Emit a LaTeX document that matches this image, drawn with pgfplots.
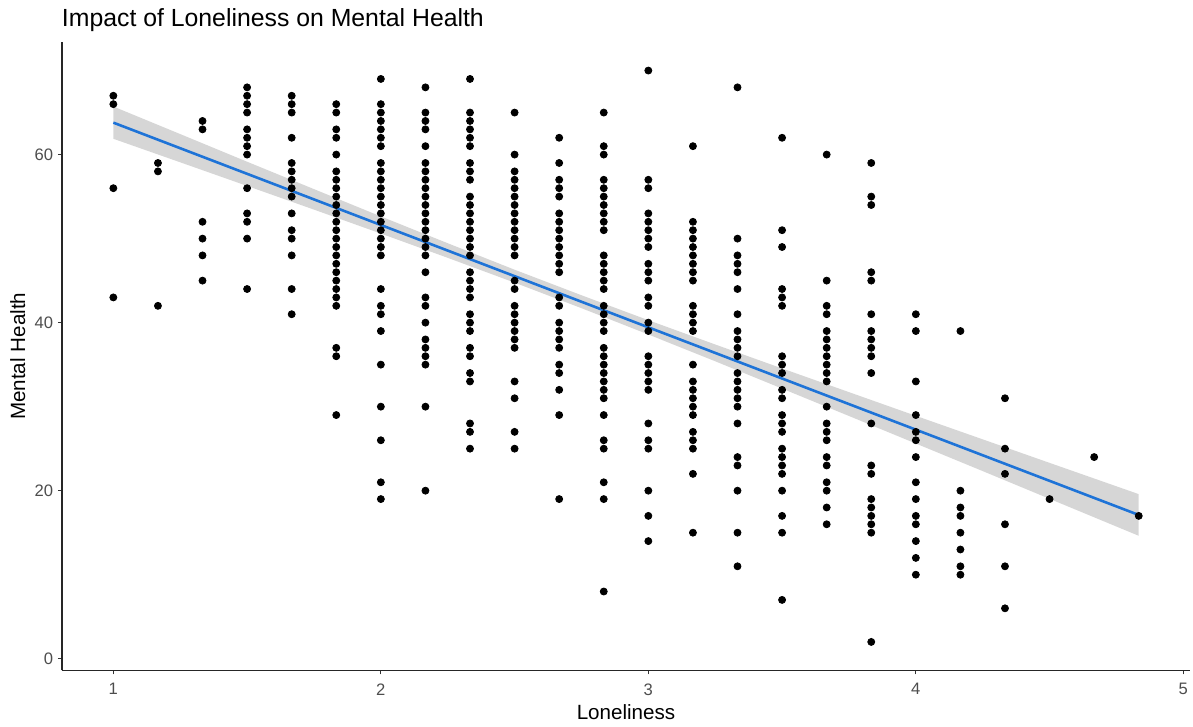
\documentclass[border=0pt]{standalone}
\usepackage{fontspec}
\setmainfont{Liberation Sans}
\usepackage{pgfplots}
\pgfplotsset{compat=1.18}
\definecolor{lmblue}{RGB}{30,115,215}
\definecolor{bandgray}{RGB}{153,153,153}
\definecolor{ticktext}{RGB}{77,77,77}
\begin{document}
\begin{tikzpicture}
\useasboundingbox (-31pt,-28.1pt) rectangle (565.5pt,335.25pt);
\begin{axis}[
  at={(0pt,0pt)}, anchor=south west,
  width=564pt, height=314.25pt, scale only axis,
  xmin=0.808, xmax=5.025, ymin=-1.4, ymax=73.4,
  axis x line*=bottom, axis y line*=left,
  xtick={1,2,3,4,5}, ytick={0,20,40,60},
  tick align=outside, major tick length=2pt,
  tick style={color=black!80, line width=0.5pt},
  axis line style={line width=0.6pt, color=black!85},
  /pgf/number format/assume math mode=true,
  ticklabel style={font=\fontsize{8.3}{10}\selectfont, text=ticktext},
  xticklabel style={anchor=north, inner sep=0pt, yshift=-4.3pt},
  yticklabel style={anchor=east, inner sep=0pt, xshift=-2.2pt},
]
\addplot[only marks, mark=*, mark size=1.75pt, black, mark options={draw=black, fill=black}] coordinates {
(1,67) (1,66) (1,56) (1,43)
(1.1667,59) (1.1667,58) (1.1667,42)
(1.3333,64) (1.3333,63) (1.3333,52) (1.3333,50) (1.3333,48) (1.3333,45)
(1.5,68) (1.5,67) (1.5,66) (1.5,65) (1.5,63) (1.5,62) (1.5,61) (1.5,60) (1.5,56) (1.5,53) (1.5,52) (1.5,50) (1.5,44)
(1.6667,67) (1.6667,66) (1.6667,65) (1.6667,62) (1.6667,59) (1.6667,58) (1.6667,57) (1.6667,56) (1.6667,55) (1.6667,53) (1.6667,51) (1.6667,50) (1.6667,48) (1.6667,44) (1.6667,41)
(1.8333,66) (1.8333,65) (1.8333,63) (1.8333,62) (1.8333,60) (1.8333,58) (1.8333,57) (1.8333,56) (1.8333,55) (1.8333,54) (1.8333,53) (1.8333,52) (1.8333,51) (1.8333,50) (1.8333,49) (1.8333,48) (1.8333,47) (1.8333,46) (1.8333,45) (1.8333,44) (1.8333,43) (1.8333,42) (1.8333,37) (1.8333,36) (1.8333,29)
(2,69) (2,66) (2,65) (2,64) (2,63) (2,62) (2,61) (2,59) (2,58) (2,57) (2,56) (2,55) (2,54) (2,53) (2,52) (2,51) (2,50) (2,49) (2,48) (2,44) (2,42) (2,41) (2,39) (2,35) (2,30) (2,26) (2,21) (2,19)
(2.1667,68) (2.1667,65) (2.1667,64) (2.1667,63) (2.1667,61) (2.1667,59) (2.1667,58) (2.1667,57) (2.1667,56) (2.1667,55) (2.1667,54) (2.1667,53) (2.1667,52) (2.1667,51) (2.1667,50) (2.1667,49) (2.1667,48) (2.1667,46) (2.1667,43) (2.1667,42) (2.1667,40) (2.1667,38) (2.1667,37) (2.1667,36) (2.1667,35) (2.1667,30) (2.1667,20)
(2.3333,69) (2.3333,65) (2.3333,64) (2.3333,63) (2.3333,62) (2.3333,61) (2.3333,59) (2.3333,58) (2.3333,57) (2.3333,55) (2.3333,54) (2.3333,53) (2.3333,52) (2.3333,51) (2.3333,50) (2.3333,49) (2.3333,48) (2.3333,46) (2.3333,45) (2.3333,44) (2.3333,43) (2.3333,41) (2.3333,40) (2.3333,39) (2.3333,37) (2.3333,36) (2.3333,34) (2.3333,33) (2.3333,28) (2.3333,27) (2.3333,25)
(2.5,65) (2.5,60) (2.5,58) (2.5,57) (2.5,56) (2.5,55) (2.5,54) (2.5,53) (2.5,52) (2.5,51) (2.5,50) (2.5,49) (2.5,48) (2.5,45) (2.5,44) (2.5,42) (2.5,41) (2.5,40) (2.5,39) (2.5,38) (2.5,37) (2.5,33) (2.5,31) (2.5,27) (2.5,25)
(2.6667,62) (2.6667,59) (2.6667,57) (2.6667,56) (2.6667,55) (2.6667,53) (2.6667,52) (2.6667,51) (2.6667,50) (2.6667,49) (2.6667,48) (2.6667,47) (2.6667,46) (2.6667,43) (2.6667,42) (2.6667,40) (2.6667,39) (2.6667,38) (2.6667,37) (2.6667,35) (2.6667,34) (2.6667,32) (2.6667,29) (2.6667,19)
(2.8333,65) (2.8333,61) (2.8333,60) (2.8333,57) (2.8333,56) (2.8333,55) (2.8333,54) (2.8333,53) (2.8333,52) (2.8333,51) (2.8333,48) (2.8333,47) (2.8333,46) (2.8333,45) (2.8333,44) (2.8333,42) (2.8333,41) (2.8333,40) (2.8333,39) (2.8333,37) (2.8333,36) (2.8333,35) (2.8333,34) (2.8333,33) (2.8333,32) (2.8333,31) (2.8333,29) (2.8333,26) (2.8333,25) (2.8333,21) (2.8333,19) (2.8333,8)
(3,70) (3,57) (3,56) (3,53) (3,52) (3,51) (3,50) (3,49) (3,47) (3,46) (3,45) (3,43) (3,42) (3,40) (3,39) (3,36) (3,35) (3,34) (3,33) (3,32) (3,28) (3,26) (3,25) (3,20) (3,17) (3,14)
(3.1667,61) (3.1667,52) (3.1667,51) (3.1667,50) (3.1667,49) (3.1667,48) (3.1667,47) (3.1667,46) (3.1667,45) (3.1667,42) (3.1667,41) (3.1667,40) (3.1667,39) (3.1667,35) (3.1667,33) (3.1667,32) (3.1667,31) (3.1667,30) (3.1667,29) (3.1667,27) (3.1667,26) (3.1667,25) (3.1667,22) (3.1667,15)
(3.3333,68) (3.3333,50) (3.3333,48) (3.3333,47) (3.3333,46) (3.3333,44) (3.3333,41) (3.3333,39) (3.3333,38) (3.3333,37) (3.3333,36) (3.3333,34) (3.3333,33) (3.3333,32) (3.3333,31) (3.3333,30) (3.3333,28) (3.3333,24) (3.3333,23) (3.3333,20) (3.3333,15) (3.3333,11)
(3.5,62) (3.5,51) (3.5,49) (3.5,44) (3.5,43) (3.5,42) (3.5,36) (3.5,35) (3.5,34) (3.5,32) (3.5,31) (3.5,29) (3.5,28) (3.5,27) (3.5,25) (3.5,24) (3.5,23) (3.5,22) (3.5,20) (3.5,17) (3.5,15) (3.5,7)
(3.6667,60) (3.6667,45) (3.6667,42) (3.6667,41) (3.6667,39) (3.6667,38) (3.6667,37) (3.6667,36) (3.6667,35) (3.6667,34) (3.6667,33) (3.6667,30) (3.6667,28) (3.6667,27) (3.6667,26) (3.6667,24) (3.6667,23) (3.6667,21) (3.6667,20) (3.6667,18) (3.6667,16)
(3.8333,59) (3.8333,55) (3.8333,54) (3.8333,46) (3.8333,45) (3.8333,41) (3.8333,39) (3.8333,38) (3.8333,37) (3.8333,36) (3.8333,34) (3.8333,28) (3.8333,23) (3.8333,22) (3.8333,19) (3.8333,18) (3.8333,17) (3.8333,16) (3.8333,15) (3.8333,2)
(4,41) (4,39) (4,33) (4,29) (4,27) (4,26) (4,24) (4,21) (4,19) (4,17) (4,16) (4,14) (4,12) (4,10)
(4.1667,39) (4.1667,20) (4.1667,18) (4.1667,17) (4.1667,15) (4.1667,13) (4.1667,11) (4.1667,10)
(4.3333,31) (4.3333,25) (4.3333,22) (4.3333,16) (4.3333,11) (4.3333,6)
(4.5,19)
(4.6667,24)
(4.8333,17)
};
\addplot[draw=none, fill=bandgray, fill opacity=0.4] coordinates {
(1,65.72) (1.25,62.44) (1.5,59.15) (1.75,55.89) (2,52.64) (2.25,49.45) (2.5,46.30) (2.75,43.26) (3,40.29) (3.25,37.40) (3.5,34.55) (3.75,31.73) (4,28.91) (4.25,26.11) (4.5,23.31) (4.6667,21.45) (4.8333,19.59)
(4.8333,14.63) (4.6667,16.83) (4.5,19.03) (4.25,22.33) (4,25.61) (3.75,28.89) (3.5,32.15) (3.25,35.40) (3,38.59) (2.75,41.72) (2.5,44.76) (2.25,47.71) (2,50.60) (1.75,53.45) (1.5,56.27) (1.25,59.08) (1,61.88)
} -- cycle;
\addplot[lmblue, line width=1.3pt, no marks] coordinates {
(1,63.80) (2,51.62) (3,39.44) (4,27.26) (4.8333,17.11)
};
\end{axis}
\node[anchor=base west, inner sep=0pt, font=\fontsize{12.4}{14}\selectfont] at (-0.2pt,321.75pt) {Impact of Loneliness on Mental Health};
\node[anchor=base, inner sep=0pt, font=\fontsize{10.3}{12}\selectfont] at (282pt,-24.3pt) {Loneliness};
\node[anchor=base, rotate=90, inner sep=0pt, font=\fontsize{10.3}{12}\selectfont] at (-18.5pt,157.1pt) {Mental Health};
\end{tikzpicture}
\end{document}
